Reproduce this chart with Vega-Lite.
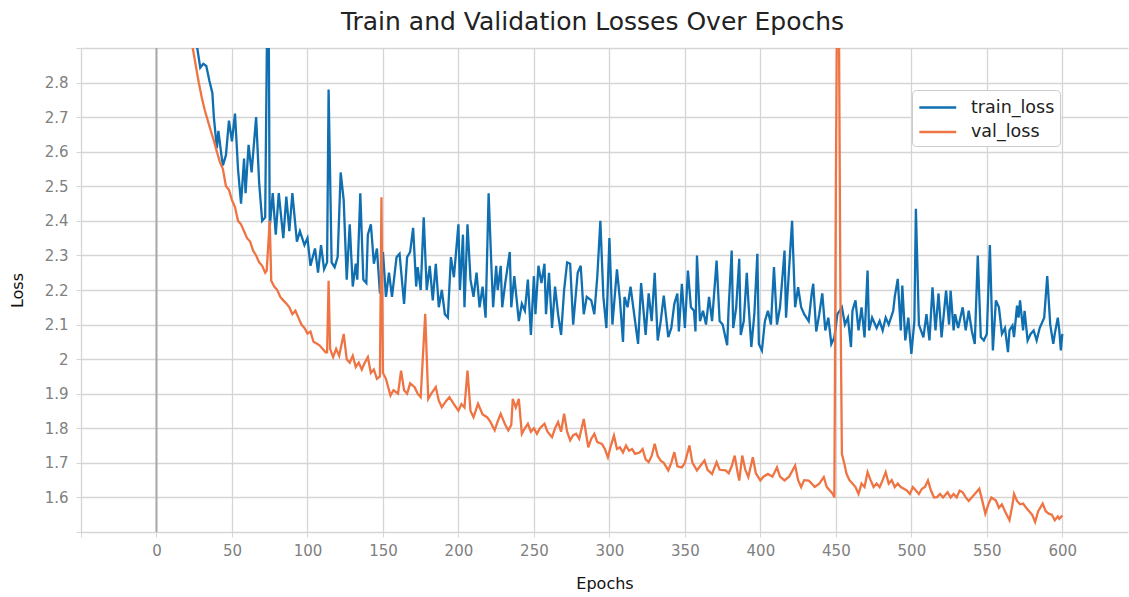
{
"$schema": "https://vega.github.io/schema/vega-lite/v6.json",
"width": 1047, "height": 484,
"autosize": {"type": "none"},
"padding": {"left": 81, "top": 48, "right": 1, "bottom": 65},
"background": "white",
"title": {"text": "Train and Validation Losses Over Epochs", "fontSize": 25, "font": "DejaVu Sans", "fontWeight": "normal", "color": "#222222", "dx": -12, "offset": 12},
"config": {"view": {"stroke": null}, "font": "DejaVu Sans"},
"encoding": {
  "x": {"field": "e", "type": "quantitative", "title": "Epochs",
    "scale": {"domain": [-50, 643.5], "nice": false, "zero": false},
    "axis": {"values": [-50, 0, 50, 100, 150, 200, 250, 300, 350, 400, 450, 500, 550, 600], "labelExpr": "datum.value < 0 ? '' : datum.label", "grid": true, "gridColor": "#d5d5d5", "gridWidth": 1.3, "domain": false, "tickColor": "#d5d5d5", "tickSize": 5, "labelColor": "#808080", "labelFontSize": 15, "labelPadding": 6, "titleFontSize": 16, "titleFontWeight": "normal", "titleColor": "#111111", "titlePadding": 17}}
},
"layer": [
{"data": {"values": [{"e": 0}]}, "mark": {"type": "rule", "color": "#a8a8a8", "strokeWidth": 2}},
{"data": {"values": [
{"e":1,"l":4.0},{"e":5,"l":3.6},{"e":10,"l":3.3},{"e":15,"l":3.1},{"e":20,"l":3.0},{"e":25,"l":2.93},{"e":27,"l":2.9},{"e":29,"l":2.843},{"e":31,"l":2.854},{"e":33,"l":2.848},{"e":35,"l":2.806},{"e":37,"l":2.77},{"e":38,"l":2.7},{"e":40,"l":2.61},{"e":41,"l":2.66},{"e":43,"l":2.59},{"e":44,"l":2.56},{"e":46,"l":2.59},{"e":48,"l":2.69},{"e":50,"l":2.63},{"e":52,"l":2.71},{"e":54,"l":2.55},{"e":56,"l":2.45},{"e":58,"l":2.58},{"e":59,"l":2.48},{"e":61,"l":2.62},{"e":63,"l":2.54},{"e":66,"l":2.7},{"e":68,"l":2.51},{"e":70,"l":2.4},{"e":72,"l":2.41},{"e":74,"l":3.3},{"e":75,"l":2.38},{"e":77,"l":2.48},{"e":79,"l":2.36},{"e":81,"l":2.48},{"e":84,"l":2.35},{"e":86,"l":2.47},{"e":88,"l":2.37},{"e":90,"l":2.48},{"e":93,"l":2.34},{"e":95,"l":2.37},{"e":98,"l":2.33},{"e":100,"l":2.35},{"e":102,"l":2.27},{"e":105,"l":2.32},{"e":107,"l":2.25},{"e":109,"l":2.33},{"e":111,"l":2.26},{"e":113,"l":2.28},{"e":114,"l":2.78},{"e":116,"l":2.28},{"e":118,"l":2.266},{"e":120,"l":2.295},{"e":122,"l":2.54},{"e":124,"l":2.46},{"e":126,"l":2.23},{"e":128,"l":2.39},{"e":130,"l":2.21},{"e":132,"l":2.276},{"e":133,"l":2.23},{"e":135,"l":2.48},{"e":137,"l":2.23},{"e":139,"l":2.22},{"e":140,"l":2.36},{"e":142,"l":2.39},{"e":144,"l":2.276},{"e":146,"l":2.32},{"e":148,"l":2.19},{"e":150,"l":2.31},{"e":152,"l":2.18},{"e":154,"l":2.25},{"e":156,"l":2.18},{"e":159,"l":2.295},{"e":161,"l":2.305},{"e":164,"l":2.16},{"e":166,"l":2.295},{"e":168,"l":2.31},{"e":170,"l":2.38},{"e":172,"l":2.21},{"e":173,"l":2.266},{"e":175,"l":2.2},{"e":177,"l":2.41},{"e":179,"l":2.2},{"e":181,"l":2.27},{"e":183,"l":2.17},{"e":185,"l":2.276},{"e":187,"l":2.15},{"e":189,"l":2.2},{"e":191,"l":2.13},{"e":193,"l":2.12},{"e":195,"l":2.295},{"e":197,"l":2.237},{"e":200,"l":2.39},{"e":201,"l":2.2},{"e":203,"l":2.36},{"e":204,"l":2.15},{"e":206,"l":2.39},{"e":208,"l":2.23},{"e":210,"l":2.18},{"e":212,"l":2.25},{"e":214,"l":2.15},{"e":216,"l":2.21},{"e":218,"l":2.12},{"e":220,"l":2.48},{"e":222,"l":2.25},{"e":223,"l":2.15},{"e":225,"l":2.27},{"e":226,"l":2.2},{"e":228,"l":2.27},{"e":229,"l":2.15},{"e":231,"l":2.22},{"e":234,"l":2.31},{"e":235,"l":2.15},{"e":237,"l":2.24},{"e":240,"l":2.11},{"e":242,"l":2.16},{"e":244,"l":2.14},{"e":246,"l":2.23},{"e":248,"l":2.07},{"e":250,"l":2.24},{"e":251,"l":2.13},{"e":253,"l":2.27},{"e":255,"l":2.22},{"e":257,"l":2.276},{"e":258,"l":2.13},{"e":260,"l":2.25},{"e":262,"l":2.09},{"e":264,"l":2.21},{"e":266,"l":2.13},{"e":268,"l":2.07},{"e":270,"l":2.2},{"e":272,"l":2.28},{"e":274,"l":2.276},{"e":276,"l":2.1},{"e":279,"l":2.25},{"e":281,"l":2.27},{"e":283,"l":2.13},{"e":285,"l":2.18},{"e":288,"l":2.17},{"e":290,"l":2.13},{"e":292,"l":2.24},{"e":294,"l":2.4},{"e":296,"l":2.18},{"e":298,"l":2.09},{"e":300,"l":2.35},{"e":302,"l":2.1},{"e":305,"l":2.26},{"e":307,"l":2.17},{"e":309,"l":2.05},{"e":310,"l":2.18},{"e":312,"l":2.15},{"e":314,"l":2.21},{"e":317,"l":2.11},{"e":319,"l":2.044},{"e":321,"l":2.22},{"e":324,"l":2.07},{"e":326,"l":2.19},{"e":328,"l":2.11},{"e":330,"l":2.25},{"e":332,"l":2.054},{"e":334,"l":2.11},{"e":336,"l":2.184},{"e":339,"l":2.064},{"e":341,"l":2.09},{"e":343,"l":2.16},{"e":345,"l":2.19},{"e":346,"l":2.08},{"e":348,"l":2.218},{"e":350,"l":2.09},{"e":352,"l":2.256},{"e":354,"l":2.15},{"e":356,"l":2.14},{"e":357,"l":2.08},{"e":358,"l":2.3},{"e":360,"l":2.11},{"e":362,"l":2.14},{"e":364,"l":2.1},{"e":366,"l":2.18},{"e":368,"l":2.11},{"e":371,"l":2.285},{"e":373,"l":2.11},{"e":375,"l":2.1},{"e":378,"l":2.04},{"e":379,"l":2.15},{"e":381,"l":2.314},{"e":382,"l":2.09},{"e":384,"l":2.15},{"e":386,"l":2.29},{"e":387,"l":2.07},{"e":389,"l":2.11},{"e":391,"l":2.25},{"e":392,"l":2.17},{"e":394,"l":2.035},{"e":396,"l":2.13},{"e":398,"l":2.305},{"e":399,"l":2.044},{"e":401,"l":2.025},{"e":403,"l":2.11},{"e":405,"l":2.14},{"e":407,"l":2.1},{"e":409,"l":2.266},{"e":411,"l":2.1},{"e":413,"l":2.15},{"e":416,"l":2.314},{"e":417,"l":2.12},{"e":421,"l":2.4},{"e":423,"l":2.15},{"e":425,"l":2.208},{"e":427,"l":2.15},{"e":429,"l":2.13},{"e":432,"l":2.11},{"e":434,"l":2.19},{"e":435,"l":2.218},{"e":437,"l":2.08},{"e":439,"l":2.13},{"e":441,"l":2.19},{"e":443,"l":2.083},{"e":445,"l":2.12},{"e":447,"l":2.044},{"e":449,"l":2.063},{"e":451,"l":2.13},{"e":454,"l":2.15},{"e":456,"l":2.1},{"e":458,"l":2.12},{"e":460,"l":2.035},{"e":461,"l":2.14},{"e":463,"l":2.17},{"e":465,"l":2.083},{"e":467,"l":2.15},{"e":469,"l":2.063},{"e":471,"l":2.256},{"e":472,"l":2.083},{"e":474,"l":2.12},{"e":477,"l":2.09},{"e":479,"l":2.11},{"e":481,"l":2.083},{"e":483,"l":2.12},{"e":485,"l":2.1},{"e":488,"l":2.14},{"e":489,"l":2.18},{"e":491,"l":2.232},{"e":493,"l":2.083},{"e":494,"l":2.213},{"e":496,"l":2.054},{"e":498,"l":2.12},{"e":500,"l":2.015},{"e":502,"l":2.11},{"e":503,"l":2.435},{"e":505,"l":2.1},{"e":508,"l":2.063},{"e":510,"l":2.13},{"e":512,"l":2.054},{"e":514,"l":2.208},{"e":516,"l":2.083},{"e":518,"l":2.19},{"e":520,"l":2.063},{"e":523,"l":2.198},{"e":525,"l":2.1},{"e":526,"l":2.198},{"e":528,"l":2.083},{"e":529,"l":2.13},{"e":531,"l":2.09},{"e":534,"l":2.15},{"e":536,"l":2.083},{"e":538,"l":2.14},{"e":540,"l":2.083},{"e":542,"l":2.044},{"e":544,"l":2.3},{"e":546,"l":2.064},{"e":548,"l":2.054},{"e":550,"l":2.073},{"e":552,"l":2.33},{"e":554,"l":2.025},{"e":556,"l":2.17},{"e":558,"l":2.15},{"e":560,"l":2.073},{"e":562,"l":2.09},{"e":564,"l":2.02},{"e":565,"l":2.083},{"e":567,"l":2.097},{"e":568,"l":2.064},{"e":570,"l":2.155},{"e":571,"l":2.12},{"e":572,"l":2.17},{"e":574,"l":2.083},{"e":575,"l":2.14},{"e":577,"l":2.054},{"e":579,"l":2.073},{"e":581,"l":2.083},{"e":583,"l":2.054},{"e":585,"l":2.09},{"e":588,"l":2.12},{"e":590,"l":2.24},{"e":592,"l":2.1},{"e":594,"l":2.044},{"e":595,"l":2.073},{"e":597,"l":2.12},{"e":598,"l":2.083},{"e":599,"l":2.025},{"e":600,"l":2.073}
]},
 "mark": {"type": "line", "strokeWidth": 2.3, "clip": true},
 "encoding": {
  "y": {"field": "l", "type": "quantitative", "title": "Loss",
    "scale": {"domain": [1.5, 2.9], "nice": false, "zero": false},
    "axis": {"values": [1.5, 1.6, 1.7, 1.8, 1.9, 2.0, 2.1, 2.2, 2.3, 2.4, 2.5, 2.6, 2.7, 2.8, 2.9], "labelExpr": "datum.value < 1.55 || datum.value > 2.85 ? '' : format(datum.value, '.1~f')", "grid": true, "gridColor": "#d5d5d5", "gridWidth": 1.3, "domain": false, "tickColor": "#d5d5d5", "tickSize": 5, "labelColor": "#808080", "labelFontSize": 15, "labelPadding": 8, "titleFontSize": 16, "titleFontWeight": "normal", "titleColor": "#111111", "titlePadding": 19}},
  "color": {"datum": "train_loss", "type": "nominal",
    "scale": {"domain": ["train_loss", "val_loss"], "range": ["#0f6fb0", "#ef7443"]},
    "legend": {"title": null, "orient": "none", "legendX": 831, "legendY": 42, "labelFontSize": 17.5, "labelColor": "#222222", "symbolType": "M-0.91,0L2.39,0", "symbolStrokeWidth": 2.5, "symbolSize": 500, "strokeColor": "#cccccc", "fillColor": "white", "padding": 5, "cornerRadius": 4, "rowPadding": 3.6, "labelOffset": 29}}
 }
},
{"data": {"values": [
{"e":1,"l":4.2},{"e":5,"l":3.7},{"e":10,"l":3.35},{"e":15,"l":3.12},{"e":20,"l":2.98},{"e":24,"l":2.9},{"e":26,"l":2.85},{"e":28,"l":2.8},{"e":30,"l":2.757},{"e":32,"l":2.72},{"e":34,"l":2.69},{"e":36,"l":2.66},{"e":38,"l":2.632},{"e":40,"l":2.6},{"e":42,"l":2.57},{"e":44,"l":2.55},{"e":46,"l":2.5},{"e":48,"l":2.49},{"e":50,"l":2.46},{"e":52,"l":2.44},{"e":54,"l":2.4},{"e":56,"l":2.39},{"e":58,"l":2.37},{"e":60,"l":2.35},{"e":62,"l":2.34},{"e":64,"l":2.314},{"e":66,"l":2.3},{"e":68,"l":2.28},{"e":70,"l":2.27},{"e":72,"l":2.25},{"e":73,"l":2.256},{"e":75,"l":2.4},{"e":76,"l":2.227},{"e":78,"l":2.21},{"e":80,"l":2.2},{"e":82,"l":2.18},{"e":84,"l":2.17},{"e":86,"l":2.161},{"e":88,"l":2.15},{"e":90,"l":2.13},{"e":92,"l":2.14},{"e":94,"l":2.12},{"e":96,"l":2.1},{"e":98,"l":2.09},{"e":100,"l":2.074},{"e":102,"l":2.08},{"e":104,"l":2.05},{"e":106,"l":2.045},{"e":108,"l":2.04},{"e":110,"l":2.03},{"e":112,"l":2.02},{"e":113,"l":2.02},{"e":114,"l":2.227},{"e":115,"l":2.03},{"e":117,"l":2.006},{"e":119,"l":2.03},{"e":121,"l":2.01},{"e":124,"l":2.073},{"e":126,"l":2.0},{"e":128,"l":1.99},{"e":130,"l":2.01},{"e":132,"l":1.977},{"e":134,"l":1.99},{"e":136,"l":1.97},{"e":138,"l":1.99},{"e":140,"l":2.006},{"e":142,"l":1.96},{"e":144,"l":1.97},{"e":146,"l":1.943},{"e":148,"l":1.95},{"e":149,"l":2.468},{"e":150,"l":1.96},{"e":152,"l":1.943},{"e":155,"l":1.895},{"e":157,"l":1.91},{"e":160,"l":1.9},{"e":162,"l":1.967},{"e":164,"l":1.91},{"e":166,"l":1.9},{"e":168,"l":1.93},{"e":171,"l":1.919},{"e":173,"l":1.9},{"e":175,"l":1.89},{"e":178,"l":2.131},{"e":180,"l":1.885},{"e":182,"l":1.9},{"e":185,"l":1.919},{"e":187,"l":1.88},{"e":189,"l":1.861},{"e":192,"l":1.88},{"e":194,"l":1.89},{"e":197,"l":1.87},{"e":200,"l":1.851},{"e":202,"l":1.87},{"e":204,"l":1.86},{"e":206,"l":1.967},{"e":208,"l":1.85},{"e":210,"l":1.832},{"e":213,"l":1.871},{"e":216,"l":1.84},{"e":219,"l":1.832},{"e":221,"l":1.82},{"e":224,"l":1.794},{"e":226,"l":1.82},{"e":228,"l":1.842},{"e":231,"l":1.81},{"e":233,"l":1.794},{"e":235,"l":1.81},{"e":236,"l":1.885},{"e":238,"l":1.86},{"e":240,"l":1.885},{"e":242,"l":1.784},{"e":244,"l":1.8},{"e":246,"l":1.813},{"e":248,"l":1.79},{"e":250,"l":1.8},{"e":252,"l":1.784},{"e":254,"l":1.8},{"e":257,"l":1.813},{"e":259,"l":1.79},{"e":262,"l":1.774},{"e":264,"l":1.8},{"e":266,"l":1.818},{"e":268,"l":1.79},{"e":270,"l":1.842},{"e":272,"l":1.79},{"e":274,"l":1.765},{"e":276,"l":1.78},{"e":278,"l":1.784},{"e":280,"l":1.77},{"e":283,"l":1.827},{"e":286,"l":1.745},{"e":288,"l":1.77},{"e":290,"l":1.784},{"e":292,"l":1.76},{"e":295,"l":1.755},{"e":297,"l":1.74},{"e":299,"l":1.716},{"e":301,"l":1.75},{"e":303,"l":1.779},{"e":305,"l":1.74},{"e":307,"l":1.745},{"e":309,"l":1.73},{"e":311,"l":1.75},{"e":313,"l":1.735},{"e":315,"l":1.74},{"e":317,"l":1.726},{"e":320,"l":1.73},{"e":322,"l":1.74},{"e":324,"l":1.71},{"e":326,"l":1.702},{"e":328,"l":1.72},{"e":330,"l":1.755},{"e":332,"l":1.72},{"e":334,"l":1.706},{"e":336,"l":1.7},{"e":339,"l":1.678},{"e":341,"l":1.7},{"e":343,"l":1.731},{"e":345,"l":1.69},{"e":348,"l":1.687},{"e":350,"l":1.7},{"e":353,"l":1.75},{"e":355,"l":1.7},{"e":358,"l":1.678},{"e":360,"l":1.69},{"e":363,"l":1.707},{"e":365,"l":1.68},{"e":368,"l":1.668},{"e":371,"l":1.702},{"e":373,"l":1.68},{"e":377,"l":1.678},{"e":379,"l":1.67},{"e":381,"l":1.69},{"e":383,"l":1.721},{"e":385,"l":1.67},{"e":386,"l":1.649},{"e":388,"l":1.721},{"e":390,"l":1.68},{"e":392,"l":1.659},{"e":395,"l":1.716},{"e":397,"l":1.67},{"e":400,"l":1.649},{"e":402,"l":1.66},{"e":405,"l":1.668},{"e":408,"l":1.66},{"e":411,"l":1.687},{"e":413,"l":1.66},{"e":416,"l":1.649},{"e":419,"l":1.66},{"e":423,"l":1.692},{"e":425,"l":1.65},{"e":427,"l":1.63},{"e":429,"l":1.65},{"e":432,"l":1.649},{"e":434,"l":1.64},{"e":436,"l":1.63},{"e":439,"l":1.64},{"e":442,"l":1.659},{"e":444,"l":1.63},{"e":446,"l":1.62},{"e":448,"l":1.61},{"e":449,"l":1.6},{"e":450,"l":2.5},{"e":451,"l":3.2},{"e":452,"l":3.0},{"e":453,"l":2.2},{"e":454,"l":1.726},{"e":456,"l":1.69},{"e":457,"l":1.669},{"e":459,"l":1.65},{"e":461,"l":1.64},{"e":463,"l":1.63},{"e":465,"l":1.61},{"e":467,"l":1.64},{"e":469,"l":1.63},{"e":471,"l":1.673},{"e":473,"l":1.65},{"e":475,"l":1.63},{"e":477,"l":1.64},{"e":479,"l":1.63},{"e":481,"l":1.65},{"e":483,"l":1.673},{"e":485,"l":1.64},{"e":487,"l":1.65},{"e":489,"l":1.63},{"e":491,"l":1.64},{"e":493,"l":1.63},{"e":495,"l":1.625},{"e":497,"l":1.62},{"e":499,"l":1.61},{"e":501,"l":1.63},{"e":503,"l":1.62},{"e":505,"l":1.61},{"e":507,"l":1.625},{"e":509,"l":1.63},{"e":511,"l":1.649},{"e":513,"l":1.62},{"e":515,"l":1.6},{"e":517,"l":1.601},{"e":519,"l":1.61},{"e":521,"l":1.6},{"e":524,"l":1.615},{"e":526,"l":1.6},{"e":528,"l":1.61},{"e":530,"l":1.6},{"e":532,"l":1.62},{"e":534,"l":1.615},{"e":536,"l":1.6},{"e":538,"l":1.59},{"e":540,"l":1.6},{"e":542,"l":1.61},{"e":545,"l":1.625},{"e":547,"l":1.59},{"e":549,"l":1.553},{"e":551,"l":1.58},{"e":553,"l":1.6},{"e":556,"l":1.591},{"e":558,"l":1.57},{"e":560,"l":1.58},{"e":562,"l":1.56},{"e":565,"l":1.534},{"e":567,"l":1.58},{"e":568,"l":1.61},{"e":570,"l":1.59},{"e":572,"l":1.58},{"e":574,"l":1.582},{"e":576,"l":1.57},{"e":578,"l":1.56},{"e":580,"l":1.55},{"e":582,"l":1.529},{"e":584,"l":1.56},{"e":586,"l":1.575},{"e":587,"l":1.582},{"e":589,"l":1.56},{"e":591,"l":1.553},{"e":593,"l":1.55},{"e":595,"l":1.534},{"e":597,"l":1.545},{"e":598,"l":1.538},{"e":600,"l":1.548}
]},
 "mark": {"type": "line", "strokeWidth": 2.3, "clip": true},
 "encoding": {
  "y": {"field": "l", "type": "quantitative", "title": "Loss",
    "scale": {"domain": [1.5, 2.9], "nice": false, "zero": false},
    "axis": {"values": [1.5, 1.6, 1.7, 1.8, 1.9, 2.0, 2.1, 2.2, 2.3, 2.4, 2.5, 2.6, 2.7, 2.8, 2.9], "labelExpr": "datum.value < 1.55 || datum.value > 2.85 ? '' : format(datum.value, '.1~f')", "grid": true, "gridColor": "#d5d5d5", "gridWidth": 1.3, "domain": false, "tickColor": "#d5d5d5", "tickSize": 5, "labelColor": "#808080", "labelFontSize": 15, "labelPadding": 8, "titleFontSize": 16, "titleFontWeight": "normal", "titleColor": "#111111", "titlePadding": 19}},
  "color": {"datum": "val_loss", "type": "nominal"}
 }
}
]
}
